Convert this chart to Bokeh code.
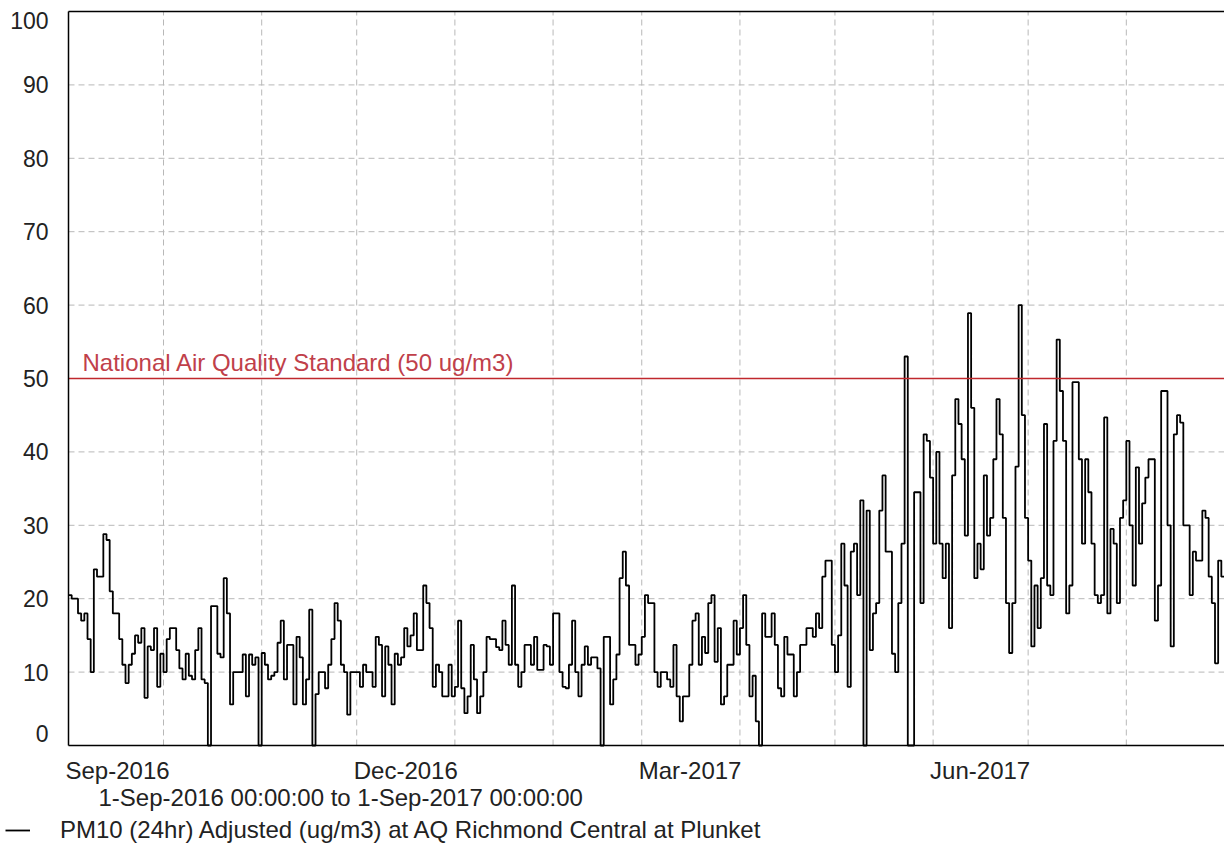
import pandas as pd
from bokeh.plotting import figure
from bokeh.models import Range1d, Label, Legend, LegendItem, ColumnDataSource
from bokeh.embed import file_html
from bokeh.resources import INLINE

start_date = "2016-09-01"
end_date = "2017-09-01"

# Daily PM10 (24hr) values, 1-Sep-2016 .. 31-Aug-2017
pm10_sep_oct = [20.5, 20, 20, 18, 17, 18, 14.5, 10, 24, 23, 23, 28.8, 28, 21, 18, 18, 14.5, 11, 8.5, 11,
                12.5, 15, 14, 16, 6.5, 13.5, 13, 16,
                8, 12.5, 10, 14.5, 16, 16, 13, 10.5, 9, 12.5, 9.5, 9, 13, 16, 9, 8.5, 0, 19, 19, 12.5, 12,
                22.8, 18, 5.6, 10, 10, 10, 12.4, 6.7, 12.4, 11]
pm10_oct_nov = [12, 0, 12.6, 11, 9, 9.5, 10, 14, 17, 9, 13.7, 13.7, 5.6, 14.8, 12, 5.6, 9, 18.5, 0, 7,
                10, 10, 7.8, 11, 14.5, 19.4, 17, 11, 10, 4.2, 10]
pm10_nov_dec = [10, 10, 8, 11, 10, 10, 8, 14.8, 13.7, 6.7, 13.5, 11, 5.6, 12.5, 11, 12, 16, 13.5, 15, 18,
                13, 13, 21.8, 19.4, 16, 8, 11, 10, 6.7, 6.7, 11]
pm10_dec_jan = [6.7, 8, 17, 7.8, 4.4, 6.7, 13.7, 9, 4.4, 6.7, 10, 14.8, 14.5, 14.5, 13.4, 13, 17, 13.7, 11,
                21.8, 11, 8, 10, 13.7, 13.7, 11, 14.8, 10.3, 10.3, 13.7]
pm10_jan_feb = [13.5, 11, 18, 18, 10, 8, 7.8, 11, 17, 10, 6.7, 11, 13.5, 11, 12, 12, 10.5, 0, 14.8, 14.8,
                5.6, 9, 12.4, 22.8, 26.4, 21.8, 13.7, 13.7, 11, 12.4, 14.8]
pm10_mar = [20.5, 19.4, 19.4, 10, 8, 10, 10, 9, 8, 13.7, 6.7, 3.3, 6.7, 6.7, 11, 17, 18, 11, 14.8, 12.6,
            19.4, 20.5, 11.4, 16, 5.6, 6.7, 11, 11, 17, 12.4]
pm10_apr = [16, 20.5, 13.7, 6.7, 9.5, 3.3, 0, 18, 14.8, 14.8, 18, 13.7, 7.8, 6.7, 14.8, 12.4, 12.4, 6.7, 10,
            13.7, 13.7, 16, 16, 14.8, 18, 16, 23, 25.2, 25.2, 13.7, 10]
pm10_may = [15, 27.5, 21.8, 8, 26.4, 27.5, 20.5, 33.4, 0, 32, 13, 18, 19.4, 32, 36.8, 26.4, 26.4, 12.5, 10,
            19.4, 27.5, 53, 0, 0, 34.5, 34.5, 19.4, 42.4, 41.5, 36.5, 27.5]
pm10_jun = [40, 27.5, 22.8, 27.5, 16, 36.8, 47.2, 43.8, 39, 28.6, 58.9, 46, 22.8, 27.5, 24, 36.8, 28.6, 31,
            39, 47.2, 42.4, 31, 19.4, 12.6, 19.4, 38, 60, 45, 31, 25.2]
pm10_jul = [13.5, 21.8, 16, 22.8, 43.8, 21.8, 20.5, 41.5, 55.3, 48.3, 41.5, 18, 21.8, 49.5, 49.5, 39, 27.5,
            39, 34.5, 27.5, 20.5, 19.4, 20.5, 44.7, 18, 29.5, 27.5, 19.4, 31, 33.4]
pm10_aug = [41.5, 30, 21.8, 37.9, 27.5, 33, 36.5, 39, 39, 17, 21.8, 48.3, 48.3, 30, 13.5, 42.4, 45, 44, 30,
            30, 20.5, 26.4, 25.2, 25.2, 32, 31, 23, 19.4, 11.2, 25.2, 23]

pm10 = (pm10_sep_oct + pm10_oct_nov + pm10_nov_dec + pm10_dec_jan + pm10_jan_feb + pm10_mar
        + pm10_apr + pm10_may + pm10_jun + pm10_jul + pm10_aug)

y_ticks = [0, 10, 20, 30, 40, 50, 60, 70, 80, 90, 100]
x_tick_dates = ["2016-09-01", "2016-12-01", "2017-03-01", "2017-06-01"]
x_tick_labels = ["Sep-2016", "Dec-2016", "Mar-2017", "Jun-2017"]
standard_value = 50
standard_label = "National Air Quality Standard (50 ug/m3)"
range_text = "1-Sep-2016 00:00:00 to  1-Sep-2017 00:00:00"
series_name = "PM10 (24hr) Adjusted (ug/m3) at AQ Richmond Central at Plunket"

FONT = "Liberation Sans"
TXT = "#222222"
GRID = "#b8b8b8"

# page geometry (pixels)
W, H = 1224, 846
PLOT_L, PLOT_T, PLOT_B = 68, 11, 745

def ms(d):
    return pd.Timestamp(d).value / 1e6

x0, x1 = ms(start_date), ms(end_date)
ymin, ymax = y_ticks[0], y_ticks[-1]
mpp = (x1 - x0) / (W - PLOT_L)            # ms per pixel
ppu = (PLOT_B - PLOT_T) / (ymax - ymin)   # pixels per value unit

p = figure(width=W, height=H, output_backend="svg", toolbar_location=None,
           x_range=Range1d(x0 - PLOT_L * mpp, x1),
           y_range=Range1d(ymin - (H - PLOT_B) / ppu, ymax + PLOT_T / ppu),
           x_axis_type=None, y_axis_type=None,
           min_border_left=0, min_border_right=0, min_border_top=0, min_border_bottom=0,
           background_fill_color="white", border_fill_color="white")
p.outline_line_color = None
p.grid.visible = False

# dashed grid: monthly verticals, every 10 units horizontally
month_starts = [ms(d) for d in pd.date_range(start_date, end_date, freq="MS")][1:-1]
p.segment(x0=month_starts, y0=ymin, x1=month_starts, y1=ymax,
          line_color=GRID, line_dash="6 4", line_width=1)
p.segment(x0=x0, y0=y_ticks[1:-1], x1=x1, y1=y_ticks[1:-1],
          line_color=GRID, line_dash="6 4", line_width=1)

# data
dates = list(pd.date_range(start_date, periods=len(pm10) + 1, freq="D"))
vals = pm10 + [pm10[-1]]
r = p.step(x=dates, y=vals, mode="after", line_color="black", line_width=1.8)

# national standard
p.segment(x0=x0, y0=standard_value, x1=x1, y1=standard_value, line_color="#c0282d", line_width=1.5)
p.add_layout(Label(x=x0, y=standard_value, x_offset=14, y_offset=3,
                   text=standard_label, text_font=FONT, text_font_size="24px", text_color="#c0404a",
                   text_baseline="bottom", text_align="left"))

# plot frame (left, top, bottom)
p.segment(x0=[x0, x0, x0], y0=[ymin, ymax, ymin], x1=[x0, x1, x1], y1=[ymax, ymax, ymin],
          line_color="black", line_width=1.5)

# y tick labels
ysrc = ColumnDataSource(dict(x=[x0] * len(y_ticks), y=y_ticks, t=[str(v) for v in y_ticks],
                             dy=[-12] + [0] * (len(y_ticks) - 2) + [9]))
p.text(x="x", y="y", text="t", source=ysrc, x_offset=-20, y_offset="dy",
       text_align="right", text_baseline="middle", text_font={"value": FONT},
       text_font_size="23px", text_color=TXT)

# x tick labels (left-aligned at the tick)
for d, lab in zip(x_tick_dates, x_tick_labels):
    p.add_layout(Label(x=ms(d), y=H - 770, x_units="data", y_units="screen", x_offset=-3,
                       text=lab, text_font=FONT, text_font_size="24px", text_color=TXT,
                       text_baseline="middle", text_align="left"))

p.add_layout(Label(x=98, y=H - 797, x_units="screen", y_units="screen", text=range_text,
                   text_font=FONT, text_font_size="24px", text_color=TXT,
                   text_baseline="middle", text_align="left"))

legend = Legend(items=[LegendItem(label=series_name, renderers=[r])], location=(5, 2),
                orientation="horizontal", border_line_color=None, background_fill_alpha=0,
                padding=0, margin=0, spacing=0, glyph_width=25, glyph_height=20,
                label_standoff=30, label_text_font=FONT, label_text_font_size="24px",
                label_text_color=TXT)
p.add_layout(legend, "center")

open("out.html", "w").write(file_html(p, INLINE))
